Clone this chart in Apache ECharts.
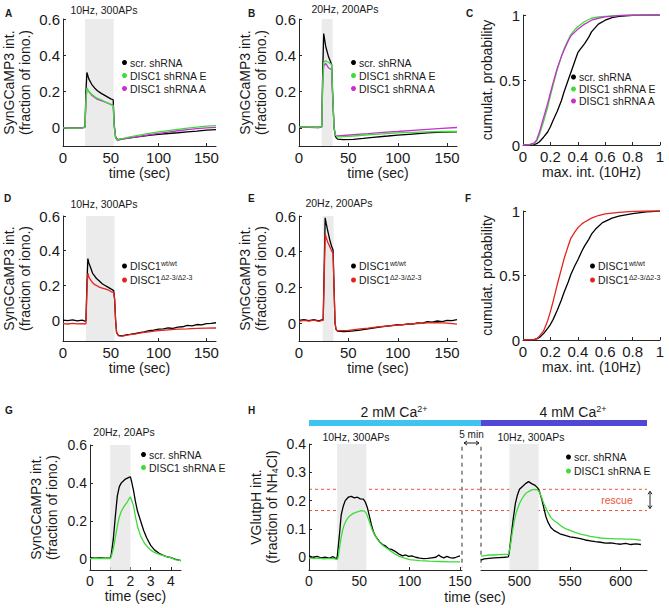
<!DOCTYPE html>
<html>
<head>
<meta charset="utf-8">
<script src="https://cdn.jsdelivr.net/npm/echarts@6/dist/echarts.min.js"></script>
<style>
  html, body { margin: 0; padding: 0; background: #fff; }
  #chart { width: 669px; height: 608px; }
</style>
</head>
<body>
<div id="chart"></div>
<script>
// ---- data ----
// A: 10Hz 300APs, shRNA
const aScr = [[0,0],[10,0],[20,0],[23,0.005],[24,0.2],[25,0.305],[27,0.27],[30,0.24],[33,0.22],[36,0.205],[40,0.19],[45,0.175],[50,0.16],[52.5,0.155],[53.5,0.02],[55,-0.05],[57,-0.065],[60,-0.062],[70,-0.055],[80,-0.048],[90,-0.042],[100,-0.036],[110,-0.031],[120,-0.027],[130,-0.022],[140,-0.018],[150,-0.013],[160,-0.01]];
const aShA = [[0,0],[20,0],[23,0.003],[24,0.15],[25,0.215],[27,0.2],[30,0.18],[35,0.16],[40,0.15],[45,0.14],[50,0.13],[52.5,0.125],[53.5,0.01],[55,-0.055],[57,-0.07],[60,-0.065],[70,-0.055],[80,-0.047],[90,-0.038],[100,-0.03],[110,-0.023],[120,-0.016],[130,-0.01],[140,-0.004],[150,0],[160,0.003]];
const aShE = [[0,0],[10,-0.002],[20,0],[23,0.003],[24,0.15],[25,0.22],[27,0.2],[30,0.185],[35,0.165],[40,0.155],[45,0.14],[50,0.128],[52.5,0.122],[53.5,0.01],[55,-0.055],[57,-0.068],[60,-0.062],[70,-0.05],[80,-0.04],[90,-0.03],[100,-0.022],[110,-0.015],[120,-0.008],[130,-0.002],[140,0.004],[150,0.009],[160,0.012]];
// B: 20Hz 200APs, shRNA
const bScr = [[0,0.005],[10,0.003],[20,0.002],[23,0.005],[24,0.3],[25,0.52],[27,0.45],[30,0.39],[33,0.35],[34,0.2],[35.5,0],[37,-0.05],[39,-0.062],[45,-0.065],[55,-0.063],[65,-0.058],[75,-0.052],[90,-0.045],[100,-0.04],[115,-0.034],[130,-0.028],[145,-0.024],[160,-0.022]];
const bShA = [[0,0.005],[20,0.004],[23,0.006],[24,0.24],[25,0.34],[27,0.355],[30,0.33],[33,0.32],[34,0.18],[35.5,0],[37,-0.04],[39,-0.045],[45,-0.042],[55,-0.038],[70,-0.032],[85,-0.025],[100,-0.02],[115,-0.014],[130,-0.008],[145,-0.003],[160,0.002]];
const bShE = [[0,0.005],[10,0.004],[20,0.003],[23,0.006],[24,0.25],[25,0.36],[27,0.37],[30,0.36],[33,0.35],[34,0.2],[35.5,0],[37,-0.04],[39,-0.05],[45,-0.048],[55,-0.045],[70,-0.038],[85,-0.033],[100,-0.028],[115,-0.025],[130,-0.022],[145,-0.02],[160,-0.02]];
// C: cumulative max. int.
const cScr = [[0,0],[0.05,0],[0.08,0.003],[0.1,0.01],[0.12,0.025],[0.15,0.06],[0.18,0.1],[0.2,0.14],[0.22,0.19],[0.25,0.26],[0.28,0.34],[0.3,0.41],[0.33,0.5],[0.35,0.56],[0.38,0.65],[0.4,0.71],[0.42,0.74],[0.45,0.78],[0.48,0.83],[0.5,0.87],[0.55,0.93],[0.6,0.96],[0.65,0.98],[0.7,0.99],[0.8,0.997],[0.9,1],[1,1]];
const cShE = [[0,0],[0.05,0.002],[0.08,0.01],[0.1,0.03],[0.12,0.08],[0.15,0.18],[0.18,0.29],[0.2,0.38],[0.22,0.46],[0.25,0.58],[0.28,0.68],[0.3,0.74],[0.33,0.81],[0.35,0.85],[0.38,0.89],[0.4,0.91],[0.45,0.95],[0.5,0.975],[0.55,0.985],[0.6,0.99],[0.7,0.997],[0.8,1],[1,1]];
const cShA = [[0,0],[0.05,0.004],[0.08,0.015],[0.1,0.04],[0.12,0.1],[0.15,0.21],[0.18,0.32],[0.2,0.4],[0.22,0.48],[0.25,0.59],[0.28,0.68],[0.3,0.73],[0.33,0.8],[0.35,0.84],[0.38,0.87],[0.4,0.89],[0.45,0.93],[0.5,0.96],[0.55,0.975],[0.6,0.985],[0.7,0.995],[0.8,1],[1,1]];
// D: 10Hz 300APs, mice
const dWt = [[0,0],[5,-0.003],[10,0.002],[15,-0.004],[20,0],[23,-0.005],[24,-0.004],[25,0.2],[26,0.355],[27,0.33],[29,0.3],[31,0.27],[33,0.255],[35,0.24],[38,0.225],[41,0.21],[44,0.2],[47,0.19],[50,0.18],[53,0.17],[54,0.12],[55,0],[56,-0.07],[58,-0.088],[62,-0.09],[66,-0.085],[70,-0.082],[75,-0.078],[80,-0.072],[85,-0.068],[90,-0.06],[95,-0.058],[100,-0.052],[105,-0.05],[110,-0.045],[115,-0.047],[120,-0.04],[125,-0.038],[130,-0.03],[135,-0.033],[140,-0.025],[145,-0.027],[150,-0.02],[155,-0.018],[160,-0.015]];
const dMut = [[0,-0.02],[5,-0.022],[10,-0.018],[15,-0.021],[20,-0.02],[23,-0.022],[24,-0.02],[25,0.17],[26,0.27],[27,0.25],[29,0.23],[31,0.215],[33,0.205],[35,0.2],[38,0.19],[41,0.185],[44,0.18],[47,0.175],[50,0.165],[53,0.16],[54,0.12],[55,0],[56,-0.07],[58,-0.09],[62,-0.092],[66,-0.088],[70,-0.083],[75,-0.08],[80,-0.075],[85,-0.07],[90,-0.067],[95,-0.063],[100,-0.06],[110,-0.056],[120,-0.052],[130,-0.05],[140,-0.047],[150,-0.046],[160,-0.045]];
// E: 20Hz 200APs, mice
const eWt = [[0,0.015],[5,0.02],[10,0.014],[15,0.02],[20,0.013],[23,0.018],[24.5,0.02],[25.5,0.3],[26.5,0.59],[27.5,0.56],[29,0.52],[31,0.47],[33,0.43],[34.5,0.41],[35.5,0.2],[36.5,0],[37.5,-0.035],[39,-0.045],[45,-0.048],[50,-0.046],[55,-0.043],[60,-0.04],[65,-0.036],[70,-0.032],[75,-0.028],[80,-0.023],[85,-0.02],[90,-0.016],[95,-0.012],[100,-0.008],[105,-0.01],[110,-0.004],[115,-0.006],[120,0.002],[125,0],[130,0.008],[135,0.005],[140,0.012],[145,0.009],[150,0.016],[155,0.014],[160,0.02]];
const eMut = [[0,0.01],[5,0.016],[10,0.011],[15,0.017],[20,0.01],[23,0.014],[24.5,0.016],[25.5,0.25],[26.5,0.5],[27.5,0.48],[29,0.455],[31,0.43],[33,0.405],[34.5,0.39],[35.5,0.19],[36.5,0],[37.5,-0.035],[39,-0.042],[45,-0.042],[50,-0.04],[60,-0.034],[70,-0.028],[80,-0.021],[90,-0.016],[100,-0.011],[110,-0.006],[120,-0.002],[130,0.001],[140,0.003],[150,0],[160,-0.006]];
// F: cumulative, mice
const fWt = [[0,0],[0.05,0],[0.08,0.003],[0.1,0.008],[0.12,0.02],[0.15,0.05],[0.18,0.09],[0.2,0.12],[0.22,0.16],[0.25,0.23],[0.28,0.31],[0.3,0.37],[0.33,0.45],[0.35,0.51],[0.38,0.58],[0.4,0.62],[0.43,0.69],[0.45,0.73],[0.48,0.78],[0.5,0.82],[0.53,0.86],[0.55,0.88],[0.58,0.91],[0.6,0.92],[0.65,0.945],[0.7,0.96],[0.75,0.97],[0.8,0.98],[0.9,0.993],[1,1]];
const fMut = [[0,0],[0.05,0],[0.08,0.003],[0.1,0.01],[0.12,0.03],[0.15,0.07],[0.18,0.15],[0.2,0.22],[0.22,0.3],[0.25,0.43],[0.28,0.55],[0.3,0.63],[0.33,0.73],[0.35,0.79],[0.38,0.84],[0.4,0.87],[0.43,0.9],[0.45,0.915],[0.5,0.945],[0.55,0.965],[0.6,0.978],[0.7,0.99],[0.8,0.997],[0.9,1],[1,1]];
// G: 20Hz 20APs
const gScr = [[0,0.005],[0.25,0.003],[0.5,0.005],[0.75,0.002],[1,0.004],[1.05,0.02],[1.15,0.1],[1.25,0.22],[1.35,0.33],[1.45,0.38],[1.55,0.4],[1.65,0.41],[1.75,0.42],[1.85,0.425],[1.95,0.43],[2,0.432],[2.05,0.41],[2.15,0.36],[2.25,0.3],[2.35,0.25],[2.5,0.2],[2.65,0.15],[2.8,0.11],[3,0.07],[3.2,0.045],[3.4,0.03],[3.6,0.018],[3.8,0.01],[4,0.005],[4.2,-0.003],[4.5,-0.01]];
const gShE = [[0,0],[0.5,0.002],[1,0],[1.05,0.01],[1.15,0.05],[1.25,0.11],[1.35,0.17],[1.45,0.22],[1.55,0.25],[1.65,0.27],[1.75,0.285],[1.85,0.3],[1.95,0.32],[2,0.325],[2.05,0.31],[2.15,0.28],[2.25,0.22],[2.35,0.17],[2.5,0.12],[2.7,0.08],[3,0.045],[3.2,0.032],[3.5,0.02],[3.8,0.01],[4,0.005],[4.2,-0.005],[4.5,-0.01]];
// H: VGlutpH, 2 mM then 4 mM Ca
const hScrL = [[0,0.005],[4,0],[8,0.003],[12,-0.002],[16,0],[20,-0.003],[24,0.002],[27,-0.005],[28,0],[30,0.07],[32,0.15],[34,0.18],[36,0.2],[39,0.212],[42,0.215],[45,0.21],[48,0.212],[51,0.206],[54,0.205],[56,0.195],[58,0.175],[60,0.145],[62,0.115],[64,0.09],[66,0.075],[68,0.065],[70,0.055],[73,0.045],[76,0.04],[79,0.03],[82,0.028],[86,0.02],[90,0.01],[93,0.005],[96,0.008],[99,0.003],[102,0.005],[106,0],[110,-0.003],[114,-0.005],[118,-0.004],[122,-0.002],[126,0],[129,0.008],[131,0.002],[134,-0.002],[137,0.003],[140,-0.001],[143,-0.003],[146,0],[150,0.005]];
const hShEL = [[0,-0.002],[5,-0.005],[10,-0.003],[15,-0.006],[20,-0.004],[25,-0.005],[28,-0.008],[29,0],[31,0.05],[33,0.09],[35,0.115],[37,0.13],[40,0.145],[44,0.155],[48,0.16],[52,0.165],[55,0.163],[57,0.155],[59,0.135],[61,0.115],[63,0.095],[65,0.08],[68,0.063],[71,0.05],[74,0.04],[78,0.03],[82,0.02],[86,0.01],[90,0.003],[95,-0.003],[100,-0.008],[105,-0.01],[110,-0.012],[120,-0.014],[130,-0.015],[140,-0.016],[150,-0.016]];
const hScrR = [[462,-0.01],[465,-0.006],[470,-0.004],[475,-0.002],[480,-0.001],[485,0],[489,0.001],[490,0.02],[492,0.08],[494,0.14],[496,0.19],[498,0.22],[500,0.24],[503,0.25],[506,0.26],[509,0.267],[512,0.26],[515,0.255],[518,0.245],[520,0.23],[522,0.205],[524,0.175],[526,0.145],[528,0.125],[531,0.105],[534,0.095],[540,0.083],[546,0.076],[550,0.072],[555,0.069],[560,0.066],[565,0.061],[570,0.058],[575,0.055],[580,0.053],[585,0.05],[590,0.051],[595,0.048],[600,0.046],[605,0.049],[610,0.045],[615,0.047],[620,0.045]];
const hShER = [[462,0.004],[466,0.006],[470,0.008],[475,0.008],[480,0.009],[485,0.01],[489,0.01],[491,0.04],[493,0.09],[495,0.13],[497,0.16],[500,0.19],[503,0.21],[506,0.225],[509,0.232],[512,0.238],[515,0.24],[518,0.238],[520,0.228],[522,0.21],[524,0.19],[526,0.175],[528,0.16],[531,0.14],[534,0.13],[538,0.12],[542,0.108],[546,0.1],[550,0.095],[555,0.088],[560,0.082],[565,0.078],[570,0.074],[575,0.071],[580,0.068],[585,0.067],[590,0.066],[595,0.065],[600,0.065],[605,0.064],[610,0.064],[615,0.062],[620,0.06]];

// stimulation windows
const stimA = [23, 53], stimB = [23, 34], stimD = [24, 54], stimE = [24, 35];
const stimG = [1, 2], stimH1 = [28, 57], stimH2 = [490, 519];
const rescueLevels = [0.24, 0.165];

// tick values
const ticksT = [0, 50, 100, 150];
const ticksY06 = [0, 0.2, 0.4, 0.6];
const ticksCdfX = [0, 0.2, 0.4, 0.6, 0.8, 1];
const ticksCdfY = [0, 0.5, 1];
const ticksG = [0, 1, 2, 3, 4];
const ticksHY = [0, 0.1, 0.2, 0.3, 0.4];
const ticksH2 = [500, 550, 600];

// ---- chart ----
const FONT = '"Liberation Sans", Arial, sans-serif';
const INK = '#1a1a1a';
const BLACK = '#000000', GREEN = '#3ddc3a', PURPLE = '#c92ed0', RED = '#e3231c';

const grids = [
  {left: 58, top: 19, width: 158, height: 127},   // A
  {left: 299, top: 19, width: 158, height: 127},  // B
  {left: 523, top: 15, width: 137, height: 130},  // C
  {left: 57, top: 216, width: 159, height: 125},  // D
  {left: 299, top: 216, width: 158, height: 125}, // E
  {left: 523, top: 211, width: 137, height: 129}, // F
  {left: 90, top: 445, width: 91, height: 125},   // G
  {left: 309, top: 444, width: 153, height: 126}, // H left
  {left: 481, top: 444, width: 166, height: 126}  // H right
];

function axis(i, min, max, ticks, fs) {
  return {
    type: 'value', gridIndex: i, min: min, max: max,
    axisLine: {show: true, onZero: false, lineStyle: {color: '#262626', width: 1}},
    axisTick: {show: true, inside: true, length: 3, customValues: ticks, lineStyle: {color: '#262626'}},
    axisLabel: {customValues: ticks, fontSize: fs, color: INK, fontFamily: FONT, margin: 3},
    splitLine: {show: false}
  };
}
function xAx(i, min, max, ticks, name, fs) {
  const a = axis(i, min, max, ticks, fs);
  a.axisLabel.margin = 4;
  if (name) {
    a.name = name; a.nameLocation = 'middle'; a.nameGap = 19;
    a.nameTextStyle = {fontSize: 14, color: INK, fontFamily: FONT};
  }
  return a;
}
function yAx(i, min, max, ticks, name, gap, fs) {
  const a = axis(i, min, max, ticks, fs);
  if (name) {
    a.name = name; a.nameLocation = 'middle'; a.nameGap = gap;
    a.nameTextStyle = {fontSize: 14, lineHeight: 16, color: INK, fontFamily: FONT,
      rich: {sub: {fontSize: 9, fontFamily: FONT, color: INK, padding: [6, 0, 0, 0]}}};
  }
  return a;
}

const SYN = 'SynGCaMP3 int.\n(fraction of iono.)';
const xAxes = [
  xAx(0, 0, 160, ticksT, 'time (sec)', 15),
  xAx(1, 0, 160, ticksT, 'time (sec)', 15),
  xAx(2, 0, 1, ticksCdfX, 'max. int. (10Hz)', 15),
  xAx(3, 0, 160, ticksT, 'time (sec)', 15),
  xAx(4, 0, 160, ticksT, 'time (sec)', 15),
  xAx(5, 0, 1, ticksCdfX, 'max. int. (10Hz)', 15),
  xAx(6, 0, 4.5, ticksG, 'time (sec)', 14),
  xAx(7, 0, 152, ticksT, '', 14),
  xAx(8, 462, 626, ticksH2, '', 14)
];
const yAxes = [
  yAx(0, -0.1, 0.6, ticksY06, SYN, 30, 15),
  yAx(1, -0.1, 0.6, ticksY06, SYN, 30, 15),
  yAx(2, 0, 1, ticksCdfY, 'cumulat. probability', 23, 15),
  yAx(3, -0.12, 0.6, ticksY06, SYN, 30, 15),
  yAx(4, -0.1, 0.6, ticksY06, SYN, 30, 15),
  yAx(5, 0, 1, ticksCdfY, 'cumulat. probability', 23, 15),
  yAx(6, -0.06, 0.6, ticksY06, SYN, 30, 14),
  yAx(7, -0.045, 0.4, ticksHY, 'VGlutpH int.\n(fraction of NH{sub|4}Cl)', 29, 14),
  {type: 'value', gridIndex: 8, min: -0.045, max: 0.4, show: false}
];

const series = [];
function stim(i, w) {
  series.push({type: 'line', name: 'stim' + i, xAxisIndex: i, yAxisIndex: i, data: [], z: 1, silent: true,
    markArea: {silent: true, itemStyle: {color: '#ebebeb'}, data: [[{xAxis: w[0]}, {xAxis: w[1]}]]}});
}
function trace(i, name, color, data) {
  series.push({type: 'line', name: name, xAxisIndex: i, yAxisIndex: i, data: data, z: 3,
    showSymbol: false, symbol: 'circle', silent: true,
    lineStyle: {color: color, width: 1.3}, itemStyle: {color: color}});
}
const SCR = 'scr. shRNA', SHE = 'DISC1 shRNA E', SHA = 'DISC1 shRNA A';
const WT = 'DISC1 wt/wt', MUT = 'DISC1 d2-3/d2-3';

stim(0, stimA); trace(0, SCR, BLACK, aScr); trace(0, SHA, PURPLE, aShA); trace(0, SHE, GREEN, aShE);
stim(1, stimB); trace(1, SCR, BLACK, bScr); trace(1, SHA, PURPLE, bShA); trace(1, SHE, GREEN, bShE);
trace(2, SCR, BLACK, cScr); trace(2, SHE, GREEN, cShE); trace(2, SHA, PURPLE, cShA);
stim(3, stimD); trace(3, WT, BLACK, dWt); trace(3, MUT, RED, dMut);
stim(4, stimE); trace(4, WT, BLACK, eWt); trace(4, MUT, RED, eMut);
trace(5, WT, BLACK, fWt); trace(5, MUT, RED, fMut);
stim(6, stimG); trace(6, SCR, BLACK, gScr); trace(6, SHE, GREEN, gShE);
stim(7, stimH1); trace(7, SCR, BLACK, hScrL); trace(7, SHE, GREEN, hShEL);
stim(8, stimH2); trace(8, SCR, BLACK, hScrR); trace(8, SHE, GREEN, hShER);

function legend(names, left, top, lh) {
  return {
    data: names, orient: 'vertical', left: left, top: top, icon: 'circle',
    itemWidth: 5, itemHeight: 5, itemGap: 0, padding: 0, selectedMode: false,
    textStyle: {fontSize: 10.5, fontFamily: FONT, color: INK, lineHeight: lh, padding: [0, 0, 0, -2],
      rich: {sup: {fontSize: 7, fontFamily: FONT, color: INK, padding: [0, 0, 5, 0]}}},
    formatter: function (n) {
      if (n === WT) return 'DISC1{sup|wt/wt}';
      if (n === MUT) return 'DISC1{sup|\u03942-3/\u03942-3}';
      return n;
    }
  };
}
const legends = [
  legend([SCR, SHE, SHA], 122, 56, 13),
  legend([SCR, SHE, SHA], 351, 56, 13),
  legend([SCR, SHE, SHA], 571, 71, 12),
  legend([WT, MUT], 122, 259, 14),
  legend([WT, MUT], 351, 259, 14),
  legend([WT, MUT], 590, 259, 14),
  legend([SCR, SHE], 141, 448, 13),
  legend([SCR, SHE], 566, 450, 14)
];

const chart = echarts.init(document.getElementById('chart'), null, {renderer: 'svg', width: 669, height: 608});
chart.setOption({
  animation: false,
  backgroundColor: '#ffffff',
  grid: grids,
  xAxis: xAxes,
  yAxis: yAxes,
  legend: legends,
  series: series
});

// ---- annotations ----
const px = (i, p) => chart.convertToPixel({xAxisIndex: i, yAxisIndex: i}, p);
const g = [];
function txt(x, y, text, size, opts) {
  g.push({type: 'text', x: x, y: y, silent: true, style: Object.assign({
    text: text, fill: INK, fontSize: size, fontFamily: FONT, align: 'center', verticalAlign: 'middle'
  }, opts || {})});
}
function seg(x1, y1, x2, y2, stroke, w, dash) {
  g.push({type: 'line', silent: true, shape: {x1: x1, y1: y1, x2: x2, y2: y2},
    style: {stroke: stroke, lineWidth: w, lineDash: dash || null}});
}

// panel letters
[['A', 5, 8], ['B', 248, 8], ['C', 466, 8], ['D', 4, 193], ['E', 248, 193], ['F', 465, 193], ['G', 5, 405], ['H', 248, 405]]
  .forEach(l => txt(l[1], l[2], l[0], 10, {fontWeight: 'bold', align: 'left', verticalAlign: 'top'}));

// stimulus titles
txt(104, 9.5, '10Hz, 300APs', 10.5);
txt(345, 8.5, '20Hz, 200APs', 10.5);
txt(104, 204, '10Hz, 300APs', 10.5);
txt(339, 203, '20Hz, 200APs', 10.5);
txt(124, 432, '20Hz, 20APs', 10.5);
txt(356, 437, '10Hz, 300APs', 10.5);
txt(531, 437, '10Hz, 300APs', 10.5);

// H: calcium bars
const h0 = px(7, [0, 0.4]), hEnd = px(7, [152, 0]), h2s = px(8, [462, 0]), h2e = px(8, [626, 0]);
g.push({type: 'rect', silent: true, shape: {x: h0[0], y: 420, width: h2s[0] - h0[0], height: 6}, style: {fill: '#3fc3ef'}});
g.push({type: 'rect', silent: true, shape: {x: h2s[0], y: 420, width: h2e[0] - h2s[0], height: 6}, style: {fill: '#5147d6'}});
const caRich = {sup: {fontSize: 9, fontFamily: FONT, fill: INK, padding: [0, 0, 7, 0]}};
txt(394, 412, '2 mM Ca{sup|2+}', 14, {rich: caRich});
txt(573, 412, '4 mM Ca{sup|2+}', 14, {rich: caRich});

// H: 5 min break
const sepTop = px(7, [0, 0.39])[1], sepBot = px(7, [0, -0.035])[1];
seg(hEnd[0], sepTop, hEnd[0], sepBot, '#555', 1.2, [4, 4]);
seg(h2s[0], sepTop, h2s[0], sepBot, '#555', 1.2, [4, 4]);
txt((hEnd[0] + h2s[0]) / 2, 434, '5 min', 10);
const ay = 443, ax1 = hEnd[0] + 2, ax2 = h2s[0] - 2;
seg(ax1, ay, ax2, ay, '#222', 1);
g.push({type: 'polyline', silent: true, shape: {points: [[ax1 + 3, ay - 2], [ax1, ay], [ax1 + 3, ay + 2]]}, style: {stroke: '#222', lineWidth: 1, fill: null}});
g.push({type: 'polyline', silent: true, shape: {points: [[ax2 - 3, ay - 2], [ax2, ay], [ax2 - 3, ay + 2]]}, style: {stroke: '#222', lineWidth: 1, fill: null}});

// H: rescue levels
rescueLevels.forEach(v => {
  const y = px(7, [0, v])[1];
  seg(h0[0], y, h2e[0], y, '#e8563c', 1, [3, 3]);
});
const r1 = px(8, [0, rescueLevels[0]])[1] + 2, r2 = px(8, [0, rescueLevels[1]])[1] - 2;
txt(617, (r1 + r2) / 2, 'rescue', 10.5, {fill: '#e8563c'});
seg(650, r1, 650, r2, '#222', 1);
g.push({type: 'polyline', silent: true, shape: {points: [[648, r1 + 3], [650, r1], [652, r1 + 3]]}, style: {stroke: '#222', lineWidth: 1, fill: null}});
g.push({type: 'polyline', silent: true, shape: {points: [[648, r2 - 3], [650, r2], [652, r2 - 3]]}, style: {stroke: '#222', lineWidth: 1, fill: null}});

// H: shared x name
txt(475, 597, 'time (sec)', 14);

chart.setOption({graphic: g});
</script>
</body>
</html>
